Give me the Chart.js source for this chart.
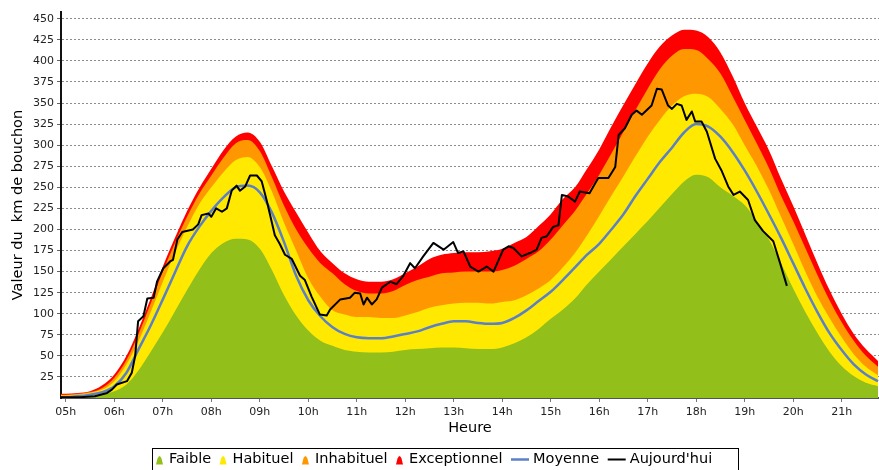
<!DOCTYPE html>
<html>
<head>
<meta charset="utf-8">
<script src="https://cdn.jsdelivr.net/npm/chart.js@4"></script>
<style>
  html, body { margin: 0; padding: 0; background: #fff; }
  canvas { display: block; }
</style>
</head>
<body>
<canvas id="chart" width="879" height="470"></canvas>
<script>
// heures des courbes de reference (pas de 15 min)
const bandTimes = [
  4.75,
  5, 5.25, 5.5, 5.75,
  6, 6.25, 6.5, 6.75,
  7, 7.25, 7.5, 7.75,
  8, 8.25, 8.5, 8.75,
  9, 9.25, 9.5, 9.75,
  10, 10.25, 10.5, 10.75,
  11, 11.25, 11.5, 11.75,
  12, 12.25, 12.5, 12.75,
  13, 13.25, 13.5, 13.75,
  14, 14.25, 14.5, 14.75,
  15, 15.25, 15.5, 15.75,
  16, 16.25, 16.5, 16.75,
  17, 17.25, 17.5, 17.75,
  18, 18.25, 18.5, 18.75,
  19, 19.25, 19.5, 19.75,
  20, 20.25, 20.5, 20.75,
  21, 21.25, 21.5, 21.75
];

// limites hautes de chaque zone (km)
const faible = [
  1,
  1, 2, 3, 5,
  8, 16, 33, 55,
  78, 103, 128, 152,
  172, 184, 189, 188,
  177, 152, 122, 98,
  80, 68, 62, 57,
  55, 54, 54, 55,
  57, 58, 59, 60,
  60, 59, 58, 58,
  60, 65, 72, 82,
  94, 105, 118, 135,
  150, 165, 180, 195,
  210, 226, 242, 257,
  265, 262, 250, 240,
  229, 210, 188, 160,
  130, 102, 77, 55,
  38, 26, 18, 14
];
const habituel = [
  3,
  3, 4, 6, 10,
  20, 40, 68, 102,
  138, 172, 203, 230,
  250, 268, 282, 286,
  274, 245, 208, 175,
  142, 120, 104, 99,
  96, 96, 95, 95,
  98, 102, 107, 110,
  112, 113, 113, 112,
  114, 116, 122, 130,
  140, 155, 172, 193,
  216, 240, 263, 287,
  310, 330, 347, 358,
  361, 357, 343, 325,
  300, 275, 247, 215,
  183, 150, 120, 95,
  72, 52, 37, 27
];
const inhabituel = [
  4,
  4, 5, 7, 12,
  24, 45, 76, 112,
  150, 184, 215, 242,
  264, 285, 302, 306,
  293, 262, 228, 200,
  178, 160, 148, 135,
  127, 124, 124, 127,
  134, 140, 144, 148,
  149, 150, 150, 150,
  152, 157, 165, 174,
  188, 205, 222, 243,
  265, 290, 316, 342,
  367, 390, 406, 414,
  413, 402, 385, 358,
  330, 302, 273, 240,
  210, 178, 146, 116,
  90, 68, 50, 37
];
const exceptionnel = [
  5,
  5, 6, 8, 15,
  28, 50, 82, 118,
  156, 190, 222, 249,
  272, 294, 310, 315,
  304, 275, 245, 220,
  196, 174, 160, 148,
  141, 138, 138, 141,
  148, 156, 165, 170,
  172, 173, 173, 174,
  177, 184, 191, 204,
  218, 236, 250, 272,
  295, 322, 348, 373,
  397, 417, 430, 437,
  436, 428, 410, 382,
  350, 322, 294, 260,
  228, 194, 160, 128,
  100, 76, 58, 44
];
const moyenne = [
  1,
  1, 2, 4, 7,
  14, 30, 58, 86,
  117, 149, 180, 203,
  222, 238, 250, 252,
  244, 220, 185, 145,
  116, 97, 84, 76,
  72, 71, 71, 73,
  76, 79, 84, 88,
  91, 91, 89, 88,
  89, 95, 104, 115,
  126, 140, 155, 170,
  183, 200, 218, 240,
  260, 280, 297, 315,
  325, 322, 310, 292,
  270, 245, 218, 190,
  160, 130, 102, 77,
  57, 40, 28, 20
];

// mesures du jour
const todayTimes = [
  4.85, 5.3, 5.6, 5.85, 5.95, 6.05, 6.26, 6.36, 6.43, 6.49,
  6.6, 6.68, 6.81, 6.88, 7.01, 7.15, 7.21, 7.3, 7.4, 7.62,
  7.73, 7.8, 7.94, 8.0, 8.1, 8.22, 8.32, 8.42, 8.52, 8.59,
  8.7, 8.8, 8.94, 9.04, 9.14, 9.31, 9.41, 9.52, 9.66, 9.83,
  9.93, 10.07, 10.24, 10.38, 10.45, 10.66, 10.86, 10.96, 11.07, 11.14,
  11.21, 11.31, 11.41, 11.52, 11.69, 11.82, 11.96, 12.1, 12.2, 12.37,
  12.58, 12.79, 12.99, 13.09, 13.2, 13.34, 13.51, 13.68, 13.82, 14.02,
  14.13, 14.23, 14.4, 14.57, 14.71, 14.81, 14.92, 15.05, 15.16, 15.23,
  15.36, 15.5, 15.6, 15.8, 15.9, 15.98, 16.19, 16.33, 16.4, 16.53,
  16.67, 16.77, 16.88, 17.08, 17.19, 17.29, 17.42, 17.5, 17.6, 17.7,
  17.8, 17.91, 17.98, 18.11, 18.22, 18.39, 18.53, 18.66, 18.77, 18.9,
  19.07, 19.21, 19.38, 19.59, 19.73, 19.87
];
const today = [
  1, 1, 2, 6, 10, 16, 20, 30, 50, 91,
  97, 118, 119, 138, 154, 162, 164, 188, 197, 200,
  206, 217, 219, 215, 225, 221, 225, 246, 252, 246,
  251, 264, 264, 257, 235, 193, 183, 170, 165, 145,
  140, 120, 99, 98, 105, 117, 119, 125, 124, 111,
  119, 111, 117, 131, 138, 135, 145, 160, 154, 168,
  184, 176, 185, 172, 174, 156, 150, 156, 150, 176,
  180, 178, 168, 172, 176, 190, 192, 203, 205, 241,
  239, 233, 245, 243, 253, 261, 261, 274, 312, 320,
  336, 341, 336, 347, 367, 366, 347, 343, 349, 347,
  330, 340, 328, 328, 316, 284, 269, 251, 241, 245,
  235, 211, 198, 186, 160, 133
];

const xTickHours = [5, 6, 7, 8, 9, 10, 11, 12, 13, 14, 15, 16, 17, 18, 19, 20, 21];
const xTickLabels = ['05h', '06h', '07h', '08h', '09h', '10h', '11h', '12h', '13h',
  '14h', '15h', '16h', '17h', '18h', '19h', '20h', '21h'];
const yTicks = [25, 50, 75, 100, 125, 150, 175, 200, 225, 250, 275, 300, 325, 350, 375, 400, 425, 450];

const GREEN = '#93bf1b';
const YELLOW = '#ffe900';
const ORANGE = '#ff9700';
const RED = '#ff0000';
const BLUE = '#5b80c6';
const FONT = "'DejaVu Sans', sans-serif";

function pts(times, values) {
  return times.map((t, i) => ({ x: t, y: values[i] }));
}

// legende encadree, dessinee sous le graphique
const boxLegend = {
  id: 'boxLegend',
  afterDraw(chart) {
    const ctx = chart.ctx;
    const top = 448.5;
    const midY = 459.5;
    const frameLeft = 152.5;
    ctx.save();
    ctx.font = '14.5px ' + FONT;
    ctx.textBaseline = 'middle';
    ctx.textAlign = 'left';
    let x = 156;
    chart.data.datasets.forEach(ds => {
      if (ds.fill) {
        // petit symbole de zone
        ctx.fillStyle = ds.backgroundColor;
        ctx.beginPath();
        ctx.moveTo(x, midY + 5);
        ctx.lineTo(x + 1.5, midY - 1);
        ctx.quadraticCurveTo(x + 3.5, midY - 6, x + 5.5, midY - 1);
        ctx.lineTo(x + 7, midY + 5);
        ctx.closePath();
        ctx.fill();
        x += 13;
      } else {
        ctx.strokeStyle = ds.borderColor;
        ctx.lineWidth = ds.borderWidth;
        ctx.beginPath();
        ctx.moveTo(x, midY);
        ctx.lineTo(x + 18, midY);
        ctx.stroke();
        x += 22;
      }
      ctx.fillStyle = '#000';
      ctx.fillText(ds.label, x, midY);
      x += ctx.measureText(ds.label).width + 8.5;
    });
    ctx.strokeStyle = '#000';
    ctx.lineWidth = 1;
    ctx.strokeRect(frameLeft, top, Math.round(x + 17) + 0.5 - frameLeft, 30);
    ctx.restore();
  }
};

Chart.defaults.font.family = FONT;
Chart.defaults.color = '#222';

const ctx = document.getElementById('chart').getContext('2d');
new Chart(ctx, {
  type: 'line',
  data: {
    datasets: [
      { label: 'Faible', data: pts(bandTimes, faible), backgroundColor: GREEN, borderWidth: 0, fill: 'origin', order: 1 },
      { label: 'Habituel', data: pts(bandTimes, habituel), backgroundColor: YELLOW, borderWidth: 0, fill: 'origin', order: 1 },
      { label: 'Inhabituel', data: pts(bandTimes, inhabituel), backgroundColor: ORANGE, borderWidth: 0, fill: 'origin', order: 1 },
      { label: 'Exceptionnel', data: pts(bandTimes, exceptionnel), backgroundColor: RED, borderWidth: 0, fill: 'origin', order: 1 },
      { label: 'Moyenne', data: pts(bandTimes, moyenne), borderColor: BLUE, borderWidth: 2.5, fill: false, order: 0 },
      { label: "Aujourd'hui", data: pts(todayTimes, today), borderColor: '#000', borderWidth: 2, fill: false, tension: 0, cubicInterpolationMode: 'default', order: -1 }
    ]
  },
  options: {
    responsive: false,
    animation: false,
    events: [],
    layout: { padding: { left: 13, top: 12, right: 0, bottom: 23 } },
    elements: {
      point: { radius: 0 },
      line: { cubicInterpolationMode: 'monotone', borderJoinStyle: 'round' }
    },
    plugins: {
      tooltip: { enabled: false },
      legend: { display: false }
    },
    scales: {
      x: {
        type: 'linear',
        min: 4.9,
        max: 21.77,
        z: 1,
        afterBuildTicks(axis) { axis.ticks = xTickHours.map(v => ({ value: v })); },
        afterFit(axis) { axis.height = 49; },
        ticks: {
          font: { size: 11 },
          padding: 4,
          maxRotation: 0,
          autoSkip: false,
          callback(value, index) { return xTickLabels[index]; }
        },
        grid: { drawOnChartArea: false, drawTicks: true, tickLength: 4, tickColor: '#777', lineWidth: 1 },
        border: { display: true, color: '#555', width: 2 },
        title: { display: true, text: 'Heure', color: '#000', font: { size: 14.5 }, padding: { top: 0, bottom: 10 } }
      },
      y: {
        min: 0,
        max: 458,
        z: 1,
        afterBuildTicks(axis) { axis.ticks = yTicks.map(v => ({ value: v })); },
        afterFit(axis) { axis.width = 48; },
        ticks: { font: { size: 11 }, padding: 3 },
        grid: { color: 'rgba(70,70,70,0.62)', lineWidth: 1, tickLength: 4, tickColor: '#666' },
        border: { display: true, color: '#111', width: 2, dash: [2, 2] },
        title: { display: true, text: 'Valeur du  km de bouchon', color: '#000', font: { size: 14.5 }, padding: { top: -3, bottom: 0 } }
      }
    }
  },
  plugins: [boxLegend]
});
</script>
</body>
</html>
